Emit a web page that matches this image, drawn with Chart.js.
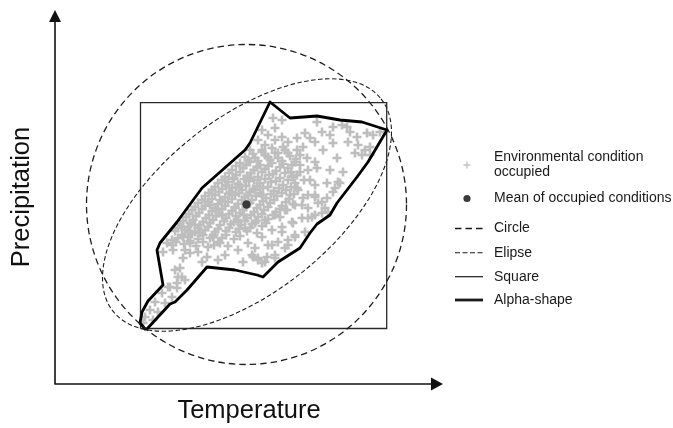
<!DOCTYPE html>
<html><head><meta charset="utf-8">
<script src="https://cdn.jsdelivr.net/npm/chart.js@4.4.1/dist/chart.umd.min.js"></script>
<style>html,body{margin:0;padding:0;background:#fff;}canvas{display:block;}</style>
</head><body>
<canvas id="c" width="673" height="428"></canvas>
<script>
// ---- data (arbitrary Temperature / Precipitation units) ----
const occupied = [
 [273,282],[282,280],[275,272],[282,263],[288,258],[275,260],[283,253],[278,247],[265,245],[262,270],[268,265],
 [317,278],[305,267],[297,262],[322,268],[333,273],[342,275],[347,273],[350,268],[367,267],[373,265],[380,268],
 [310,262],[315,258],[330,265],[333,257],[323,250],[303,253],[297,250],[348,258],[357,263],[358,255],[355,247],
 [365,250],[362,245],[337,242],[307,242],[315,238],[300,235],[308,230],[317,232],[330,230],[343,228],[293,223],
 [310,220],[327,217],[340,217],[297,212],[333,208],[290,205],[315,203],[370,253],[370,245],[291,228],[335,212],[338,218],
 [325,192],[315,185],[308,182],[305,168],[322,198],[328,188],[295,165],[288,155],[275,142],[265,138],[258,142],
 [252,145],[272,155],[282,168],[292,178],[302,195],[308,205],[315,215],
 [258,140],[267,143],[275,145],[285,152],[288,160],[295,163],[278,158],[268,155],[255,152],[248,157],[262,163],
 [272,170],[282,173],[293,177],[302,182],[312,183],[322,187],[308,192],[318,197],[327,202],[315,205],[303,202],
 [295,195],[285,190],[275,185],[265,180],[255,177],[245,172],[238,180],
 [163,148],[172,160],[183,163],[190,168],[182,173],[195,175],[200,167],[208,153],[198,148],[190,147],[183,142],
 [202,138],[180,132],[175,130],[182,123],[177,117],[170,113],[213,163],[220,157],[207,143],[173,150],[167,157],
 [190,157],[185,150],
 [178,123],[185,120],[168,113],[177,112],[162,107],[172,103],[155,98],[165,97],[150,90],[158,88],[145,83],[153,80],[143,77],
 [258,260],[265,255],[272,252],[250,250],[285,250],[262,248],
 [245,243],[255,242],[268,243],[278,242],[290,244],[300,245],
 [240,237],[250,238],[260,235],[272,237],[283,236],[295,238],
 [232,230],[243,232],[254,230],[265,231],[276,229],[288,232],[300,228],
 [225,223],[236,225],[247,224],[258,223],[269,225],[280,222],[292,224],[304,220],
 [218,217],[228,218],[238,216],[249,219],[260,217],[271,218],[283,215],[295,217],
 [212,210],[222,211],[232,212],[242,210],[253,211],[263,212],[274,209],[286,210],[298,210],
 [205,204],[215,205],[225,203],[235,205],[245,203],[256,204],[266,202],[277,204],[289,201],
 [198,197],[208,198],[218,196],[228,198],[238,196],[250,197],[260,195],[270,197],[282,194],[293,196],
 [192,190],[202,191],[212,189],[222,191],[232,189],[243,190],[254,188],[264,190],[276,188],[287,190],
 [186,183],[196,184],[206,182],[216,184],[226,182],[236,184],[247,182],[258,183],[268,181],[280,183],
 [180,176],[190,177],[200,175],[210,177],[220,175],[231,176],[241,175],[252,176],[262,174],
 [175,169],[185,170],[195,168],[205,170],[215,168],[226,169],[236,168],[247,169],[257,167],
 [178,162],[188,163],[198,161],[210,162],[222,162],[234,161],
 [172,155],[184,156],[196,154],[214,155],[228,154],
 [230,208],[240,215],[248,205],[220,200],[235,192],[255,210],[226,215],[244,185],[216,190],[238,178],
 [262,205],[210,195],[250,222],[234,222],[222,185],
 [225,145],[238,150],[218,140],[243,138],[253,143],[262,137],
 [253,246],[262,250],[275,247],[288,247],
 [248,240],[258,239],[270,240],[282,239],[296,241],
 [236,234],[246,235],[257,233],[268,234],[280,233],[292,235],
 [229,227],[240,228],[251,227],[262,228],[273,226],[285,227],[297,225],
 [222,220],[233,221],[244,221],[254,220],[265,221],[276,219],[288,220],
 [215,213],[226,214],[236,213],[246,214],[257,214],[268,213],[279,212],[291,213],
 [209,207],[219,208],[229,206],[239,207],[250,208],[260,207],[271,206],[282,207],[294,206],
 [202,200],[212,201],[222,199],[232,201],[242,200],[252,200],[263,199],[274,200],[286,198],
 [195,193],[205,194],[215,192],[225,194],[235,193],[246,193],[257,192],[268,193],[280,191],
 [189,186],[199,187],[209,185],[219,187],[229,186],[240,187],[251,185],[262,186],[273,185],
 [183,179],[193,180],[203,178],[213,180],[224,179],[234,178],[245,179],[256,179],[266,177],
 [178,172],[188,173],[198,172],[208,173],[218,171],[229,172],[239,171],[250,172],
 [182,165],[192,166],[203,165],[214,165],[226,165],[240,164],
 [176,158],[190,159],[203,158],[218,158]
];
const meanCondition = [[246.5,195.5]];
const squareCorners = [[140.5,71.5],[386.7,71.5],[386.7,297.3],[140.5,297.3],[140.5,71.5]];
const alphaShape = [
 [146,70],[140,77],[142,88],[148,99],[163,115],[157,150],[160,157],[177,178],[202,212],[245,250],[250,257],
 [270,298],[290,282],[317,284],[340,280],[362,278],[387,270],[368,238],[357,223],[347,210],[337,197],[330,185],
 [317,176],[310,167],[300,152],[278,138],[263,123],[257,125],[235,130],[207,133],[187,110],[175,98],[170,96],[146,70]
];
const circleCenter = [246.5,195.5];
const circleRadius = [160];
const ellipseCenter = [247,195];
const ellipseAxes = [171,87];
const ellipseAngle = [38.4];
const axisRange = {x:[55,443], y:[16,390]};
const legendItems = ['Environmental condition\noccupied','Mean of occupied conditions','Circle','Elipse','Square','Alpha-shape'];

const FONT = "'Liberation Sans', Arial, sans-serif";
const toXY = arr => arr.map(p => ({x:p[0], y:p[1]}));

const shapesPlugin = {
  id:'shapes',
  afterDatasetsDraw(chart){
    const {ctx, scales:{x, y}} = chart;
    function ell(c, a, b, ang, dash, w){
      const px = x.getPixelForValue(c[0]), py = y.getPixelForValue(c[1]);
      const ra = x.getPixelForValue(c[0]+a) - px;
      const rb = py - y.getPixelForValue(c[1]+b);
      ctx.save();
      ctx.beginPath();
      ctx.setLineDash(dash);
      ctx.lineWidth = w;
      ctx.strokeStyle = '#1e1e1e';
      ctx.ellipse(px, py, ra, rb, -ang*Math.PI/180, 0, Math.PI*2);
      ctx.stroke();
      ctx.restore();
    }
    ell(circleCenter, circleRadius[0], circleRadius[0], 0, [6.5,4], 1.3);
    ell(ellipseCenter, ellipseAxes[0], ellipseAxes[1], ellipseAngle[0], [4.5,2.5], 1.1);
  },
  afterDraw(chart){
    const {ctx, chartArea:ca} = chart;
    ctx.save();
    ctx.strokeStyle = '#111'; ctx.fillStyle = '#111'; ctx.lineWidth = 1.6;
    ctx.beginPath();
    ctx.moveTo(ca.left, ca.bottom + 0.5); ctx.lineTo(ca.left, ca.top + 10);
    ctx.moveTo(ca.left - 0.5, ca.bottom); ctx.lineTo(ca.right - 10, ca.bottom);
    ctx.stroke();
    ctx.beginPath();
    ctx.moveTo(ca.left, ca.top); ctx.lineTo(ca.left - 6, ca.top + 12); ctx.lineTo(ca.left + 6, ca.top + 12); ctx.closePath();
    ctx.fill();
    ctx.beginPath();
    ctx.moveTo(ca.right, ca.bottom); ctx.lineTo(ca.right - 12, ca.bottom - 6.5); ctx.lineTo(ca.right - 12, ca.bottom + 6.5); ctx.closePath();
    ctx.fill();

    const sx0 = ca.right + 12, sx1 = ca.right + 40, tx = ca.right + 51;
    const rows = [157, 198.5, 228.5, 252.7, 276.7, 300];
    ctx.font = '14px ' + FONT; ctx.textBaseline = 'middle'; ctx.fillStyle = '#1a1a1a';
    ctx.strokeStyle = '#c4c4c4'; ctx.lineWidth = 1.4;
    ctx.beginPath();
    ctx.moveTo(ca.right + 24, 161.5); ctx.lineTo(ca.right + 24, 168.5);
    ctx.moveTo(ca.right + 20.5, 165); ctx.lineTo(ca.right + 27.5, 165);
    ctx.stroke();
    const l1 = legendItems[0].split('\n');
    ctx.fillText(l1[0], tx, 157); ctx.fillText(l1[1], tx, 172);
    ctx.fillStyle = '#3a3a3a';
    ctx.beginPath(); ctx.arc(ca.right + 24, rows[1], 3.6, 0, Math.PI*2); ctx.fill();
    ctx.fillStyle = '#1a1a1a';
    ctx.fillText(legendItems[1], tx, rows[1]);
    const styles = [
      {dash:[6.5,4], w:1.3}, {dash:[5,2.5], w:1.1}, {dash:[], w:1.2}, {dash:[], w:2.8}
    ];
    for (let i = 0; i < 4; i++){
      const yy = rows[i+2];
      ctx.save();
      ctx.strokeStyle = '#1a1a1a'; ctx.lineWidth = styles[i].w; ctx.setLineDash(styles[i].dash);
      ctx.beginPath(); ctx.moveTo(sx0, yy); ctx.lineTo(sx1, yy); ctx.stroke();
      ctx.restore();
      ctx.fillText(legendItems[i+2], tx, yy);
    }
    ctx.restore();
  }
};

new Chart(document.getElementById('c'), {
  type:'scatter',
  data:{datasets:[
    {label:'Mean of occupied conditions', data:toXY(meanCondition), pointStyle:'circle', pointRadius:4.2,
     pointBackgroundColor:'#3a3a3a', pointBorderColor:'#3a3a3a', pointBorderWidth:0, order:0},
    {label:'Alpha-shape', data:toXY(alphaShape), showLine:true, pointRadius:0, borderColor:'#000',
     borderWidth:2.8, borderJoinStyle:'round', tension:0, fill:false, order:1},
    {label:'Square', data:toXY(squareCorners), showLine:true, pointRadius:0, borderColor:'#2a2a2a',
     borderWidth:1.3, tension:0, fill:false, order:2},
    {label:'Environmental condition occupied', data:toXY(occupied), pointStyle:'cross', pointRadius:4.5,
     pointBorderColor:'rgb(190,190,190)', pointBorderWidth:2.6, order:3}
  ]},
  options:{
    responsive:false, animation:false, devicePixelRatio:1,
    layout:{padding:{left:0, right:230, top:10, bottom:0}},
    plugins:{legend:{display:false}, tooltip:{enabled:false}},
    scales:{
      x:{type:'linear', min:axisRange.x[0], max:axisRange.x[1],
         ticks:{display:false}, grid:{display:false, drawTicks:false}, border:{display:false},
         title:{display:true, text:'Temperature', color:'#111', font:{family:FONT, size:25.5}, padding:{top:11.9, bottom:1.5}}},
      y:{type:'linear', min:axisRange.y[0], max:axisRange.y[1],
         ticks:{display:false}, grid:{display:false, drawTicks:false}, border:{display:false},
         title:{display:true, text:'Precipitation', color:'#111', font:{family:FONT, size:25.5}, padding:{top:6.2, bottom:18.2}}}
    }
  },
  plugins:[shapesPlugin]
});
</script>
</body></html>
